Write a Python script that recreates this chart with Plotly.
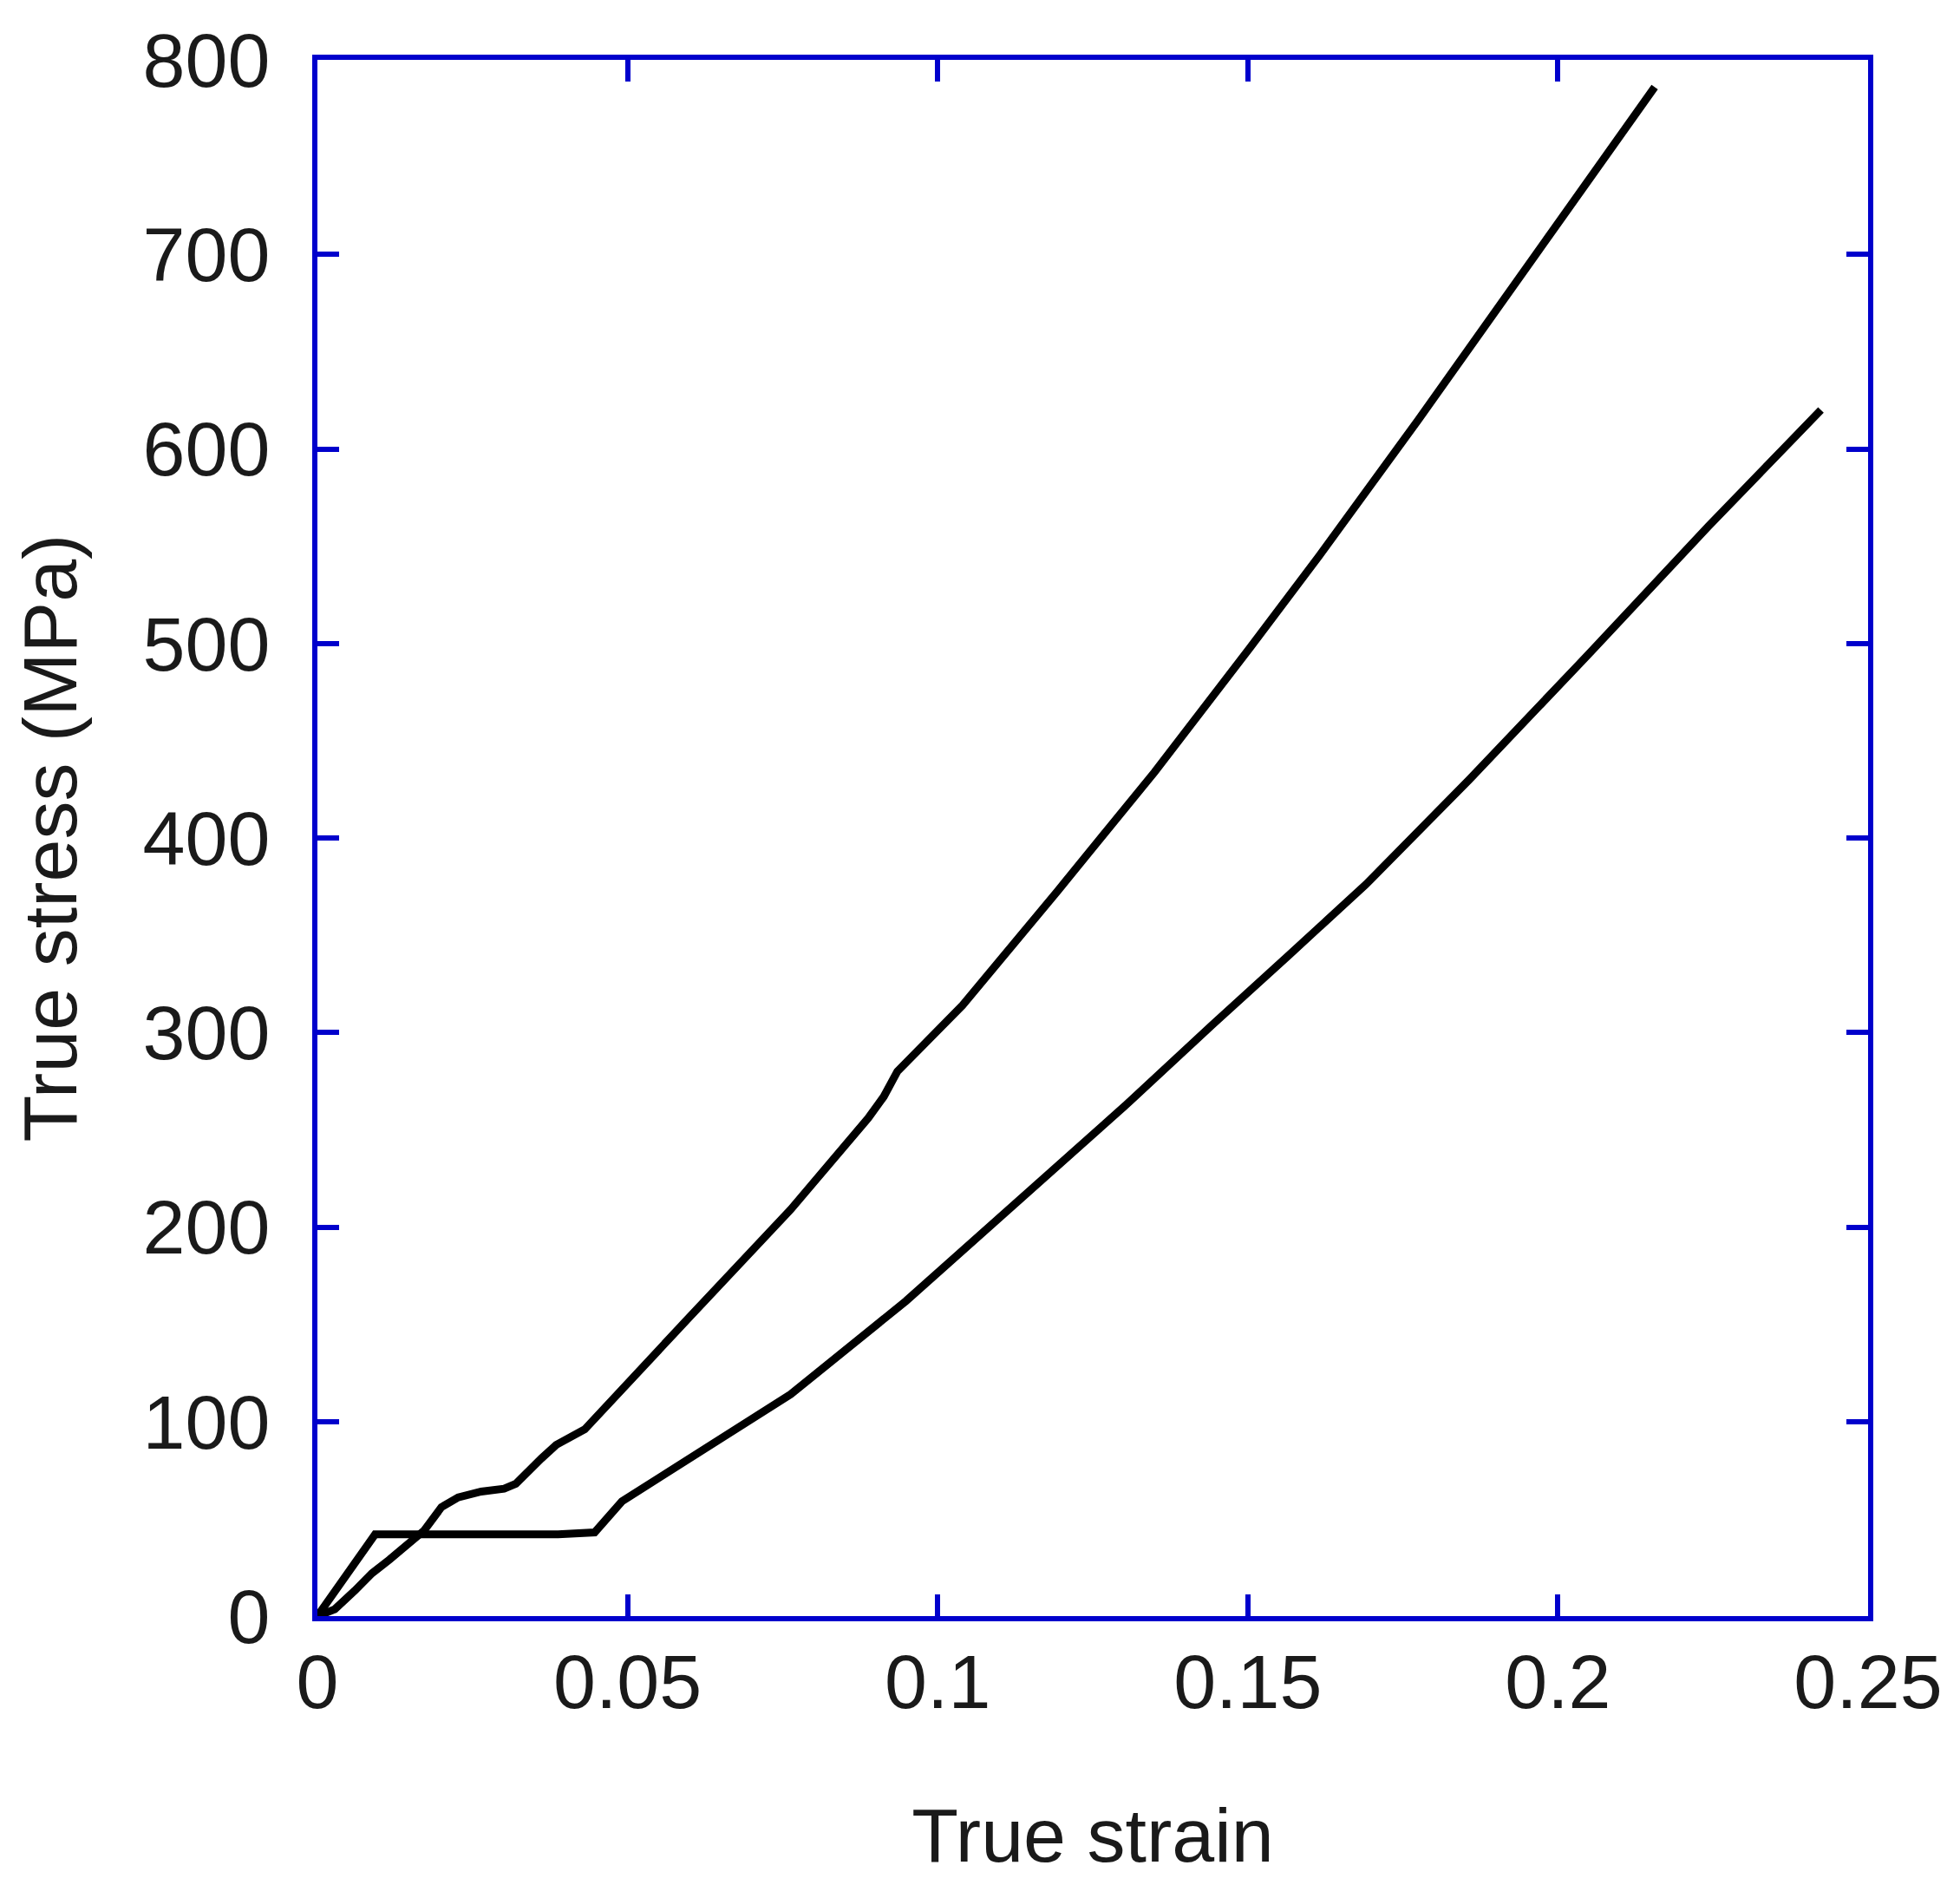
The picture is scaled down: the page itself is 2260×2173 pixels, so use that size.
import plotly.graph_objects as go

# upper curve (ends near 786 MPa)
strain_a = [0.0, 0.0028, 0.006, 0.0088, 0.0116, 0.0144, 0.0172, 0.02, 0.0227, 0.0264,
            0.0301, 0.032, 0.0338, 0.0361, 0.0385, 0.0431, 0.0589, 0.0763, 0.0888,
            0.0913, 0.0935, 0.104, 0.1194, 0.135, 0.1504, 0.1615, 0.1775, 0.1858,
            0.1957, 0.2156]
stress_a = [0, 3.5, 13, 22, 29, 37, 44, 56, 61, 64,
            65.5, 68, 74, 81, 88, 96, 150, 209, 256,
            267, 280, 314, 373, 434, 498, 545, 615, 652,
            697, 786]

# lower curve (plateau, ends near 620 MPa)
strain_b = [0.0, 0.0093, 0.0388, 0.0447, 0.0491, 0.0596, 0.0763, 0.0949, 0.1135,
            0.1301, 0.1443, 0.1527, 0.1567, 0.169, 0.1791, 0.1857, 0.2054, 0.2242,
            0.2424]
stress_b = [0, 42, 42, 43, 59, 80, 114, 162, 215,
            262, 304, 328, 340, 376, 409, 430, 496, 560,
            620]

x_ticks = [0, 0.05, 0.1, 0.15, 0.2, 0.25]
x_labels = ["0", "0.05", "0.1", "0.15", "0.2", "0.25"]
y_ticks = [0, 100, 200, 300, 400, 500, 600, 700, 800]

blue = "#0000CC"
font = dict(family="Liberation Sans, Arial, sans-serif", size=88, color="#1a1a1a")

fig = go.Figure()
for xs, ys in [(strain_a, stress_a), (strain_b, stress_b)]:
    fig.add_trace(go.Scatter(x=xs, y=ys, mode="lines",
                             line=dict(color="black", width=9),
                             showlegend=False))

axis_common = dict(showgrid=False, zeroline=False, showline=True, linecolor=blue,
                   linewidth=6, mirror="ticks", ticks="inside", ticklen=25,
                   tickwidth=6, tickcolor=blue, tickfont=font)

# page body adds an 8px margin, so the figure is a bit smaller than the window
fig.update_layout(
    width=2244, height=2157,
    margin=dict(l=358, r=86, t=60, b=302),
    paper_bgcolor="white", plot_bgcolor="white",
    xaxis=dict(range=[0, 0.25], tickvals=x_ticks, ticktext=x_labels,
               ticklabelstandoff=-6,
               title=dict(text="True strain", font=font, standoff=100),
               **axis_common),
    yaxis=dict(range=[0, 800], tickvals=y_ticks,
               ticklabelstandoff=31,
               title=dict(text="True stress (MPa)", font=font, standoff=50),
               **axis_common),
)

fig.write_html("out.html")
